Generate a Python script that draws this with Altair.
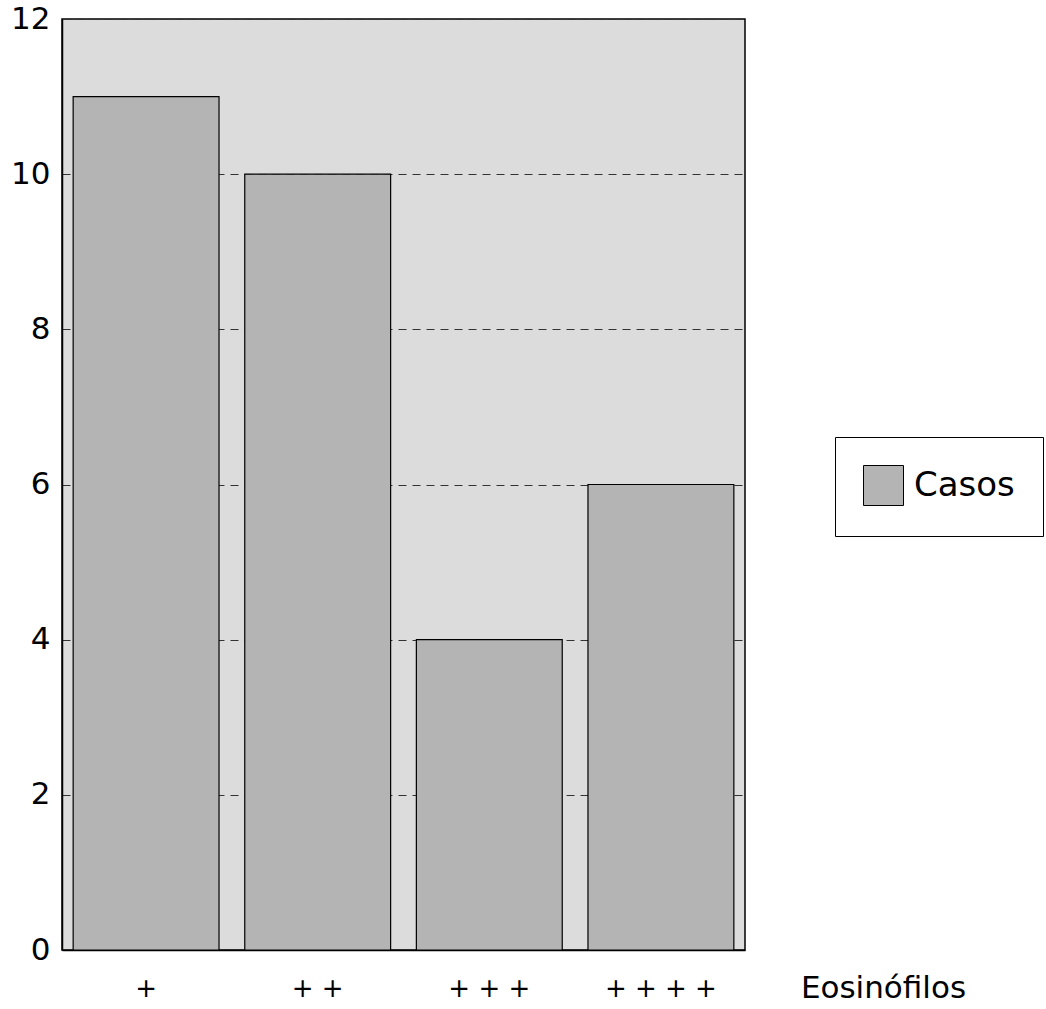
import altair as alt
import pandas as pd

categorias = ["+", "+ +", "+ + +", "+ + + +"]
casos = [11, 10, 4, 6]
serie = ["Casos"] * 4

df = pd.DataFrame({"cat": categorias, "valor": casos, "serie": serie})

chart = alt.Chart(df).mark_bar(stroke="black", strokeWidth=1.2).encode(
    x=alt.X("cat:N", sort=categorias,
            scale=alt.Scale(paddingInner=0.15, paddingOuter=0.065),
            axis=alt.Axis(title="Eosinófilos", labelAngle=0, ticks=False,
                          labelFont="DejaVu Sans", labelFontSize=26,
                          labelColor="black", labelPadding=38,
                          labelBaseline="middle",
                          titleFont="DejaVu Sans", titleFontSize=31,
                          titleFontWeight="normal", titleColor="black",
                          titleX=821, titleY=38, titleBaseline="middle",
                          titleAlign="center",
                          domainColor="black", domainWidth=1.5)),
    y=alt.Y("valor:Q", scale=alt.Scale(domain=[0, 12], nice=False),
            axis=alt.Axis(title=None, values=[0, 2, 4, 6, 8, 10, 12],
                          ticks=False, labelPadding=12,
                          labelFont="DejaVu Sans", labelFontSize=31,
                          labelColor="black",
                          grid=True, gridColor="#333333", gridDash=[8, 6],
                          gridWidth=1,
                          domainColor="black", domainWidth=1.5)),
    color=alt.Color("serie:N", scale=alt.Scale(range=["#b4b4b4"]),
                    legend=alt.Legend(title=None, orient="none",
                                      legendX=773, legendY=418,
                                      symbolType="square", symbolSize=1600,
                                      symbolStrokeColor="black",
                                      symbolStrokeWidth=1,
                                      symbolOpacity=1,
                                      labelFont="DejaVu Sans",
                                      labelFontSize=34, labelColor="black",
                                      labelOffset=10, padding=28,
                                      strokeColor="black", fillColor="white")),
).properties(
    width=683, height=931,
    background="white",
    autosize=alt.AutoSizeParams(type="none"),
    padding={"left": 62, "top": 19, "right": 301, "bottom": 59},
).configure_view(
    fill="#dcdcdc", stroke="black", strokeWidth=1.5
)

chart.save("out.html", embed_options={"renderer": "svg", "actions": False})
